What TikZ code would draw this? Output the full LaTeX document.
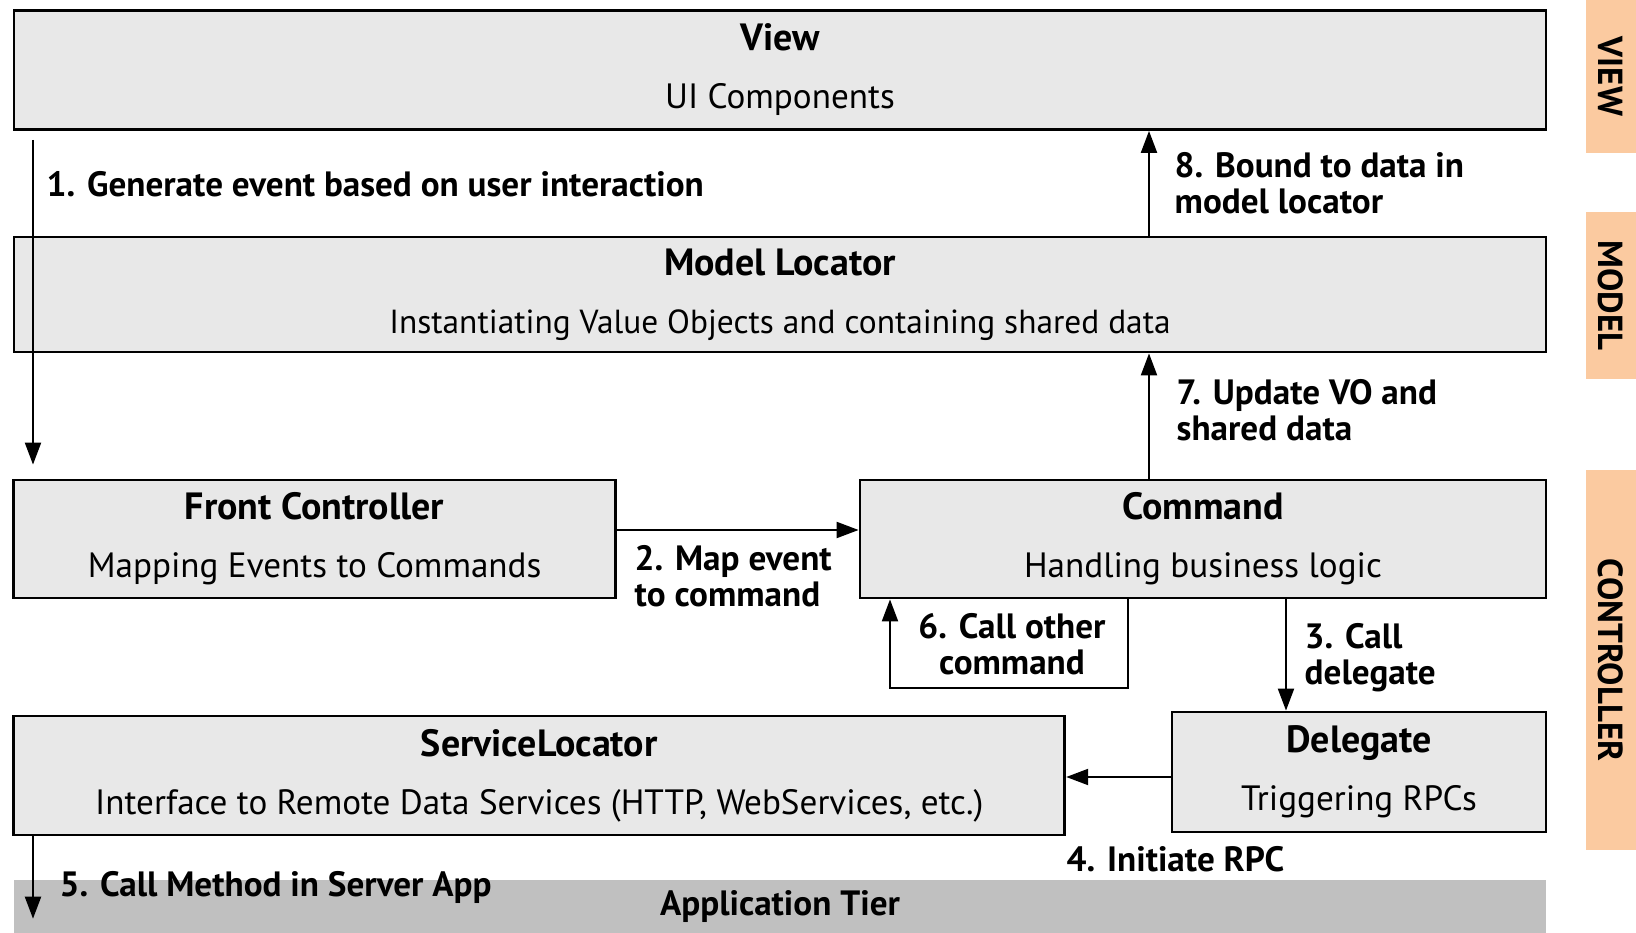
\documentclass[tikz,border=0pt]{standalone}
\usepackage{fontspec}
\setmainfont{PT Sans}
\usepackage{tikz}
\usetikzlibrary{arrows.meta,positioning,calc}
\usepackage{xcolor}

\definecolor{boxgray}{RGB}{232,232,232}
\definecolor{tiergray}{RGB}{192,192,192}
\definecolor{taborange}{RGB}{251,202,160}

\newcommand{\boxtitle}[1]{{\fontsize{10.8}{12}\selectfont\bfseries #1}}

\tikzset{
  layerbox/.style={draw, thick, fill=boxgray, align=center, inner sep=0pt,
    font=\fontsize{10}{11}\selectfont},
  steplabel/.style={font=\fontsize{10}{10.3}\selectfont\bfseries, align=left, anchor=west, inner sep=0pt},
  layertab/.style={fill=taborange, rotate=-90, minimum height=0.5cm, inner sep=0pt,
    font=\fontsize{9.9}{10}\selectfont\bfseries},
  flow/.style={semithick, -{Triangle[length=2.2mm,width=1.6mm]}}
}

\begin{document}
\begin{tikzpicture}
    \useasboundingbox (0,0) rectangle (16.36,-9.33);

    % Layers
    \node[layerbox, minimum width=15.32cm, minimum height=1.19cm] (view) at (7.80,-0.70)
        {\boxtitle{View}\\[5.5pt]UI Components};
    \node[layerbox, minimum width=15.32cm, minimum height=1.15cm] (model) at (7.80,-2.945)
        {\boxtitle{Model Locator}\\[5.5pt]{\fontsize{9.5}{11}\selectfont Instantiating Value Objects and containing shared data}};
    \node[layerbox, minimum width=6.02cm, minimum height=1.18cm] (front) at (3.146,-5.39)
        {\boxtitle{Front Controller}\\[5.5pt]Mapping Events to Commands};
    \node[layerbox, minimum width=6.86cm, minimum height=1.18cm] (command) at (12.03,-5.39)
        {\boxtitle{Command}\\[5.5pt]Handling business logic};
    \node[layerbox, minimum width=10.51cm, minimum height=1.19cm] (service) at (5.393,-7.755)
        {\boxtitle{ServiceLocator}\\[5.5pt]Interface to Remote Data Services (HTTP, WebServices, etc.)};
    \node[layerbox, minimum width=3.74cm, minimum height=1.20cm] (delegate) at (13.59,-7.72)
        {\boxtitle{Delegate}\\[5.5pt]Triggering RPCs};
    \node[fill=tiergray, minimum width=15.32cm, minimum height=0.53cm, inner sep=0pt,
        font=\fontsize{10}{11}\selectfont\bfseries] (apptier) at (7.80,-9.065) {Application Tier};

    % Side tabs
    \node[layertab, minimum width=1.53cm] (tabview) at (16.11,-0.765) {VIEW};
    \node[layertab, minimum width=1.67cm] (tabmodel) at (16.11,-2.955) {MODEL};
    \node[layertab, minimum width=3.80cm] (tabctrl) at (16.11,-6.60) {CONTROLLER};

    % Arrow columns
    \coordinate (leftx) at (0.33,0);
    \coordinate (upx) at (11.49,0);
    \coordinate (loopr) at (11.28,-6.88);
    \coordinate (loopl) at (8.90,-6.88);
    \coordinate (downx) at (12.86,0);

    % 1
    \draw[flow] ($(leftx |- view.south)+(0,-0.09)$) -- ($(leftx |- front.north)+(0,0.14)$);
    \node[steplabel] (l1) at (0.46,-1.84) {1. Generate event based on user interaction};
    % 2
    \draw[flow] ([yshift=0.09cm]front.east) -- ([yshift=0.09cm]front.east -| command.west);
    \node[steplabel] (l2) at (6.34,-5.76) {2. Map event\\to command};
    % 3
    \draw[flow] (downx |- command.south) -- (downx |- delegate.north);
    \node[steplabel] (l3) at (13.04,-6.58) {3. Call\\delegate};
    % 4
    \draw[flow] ([yshift=-0.05cm]delegate.west) -- ([yshift=-0.05cm]delegate.west -| service.east);
    \node[steplabel] (l4) at (10.66,-8.59) {4. Initiate RPC};
    % 5
    \draw[flow] (leftx |- service.south) -- ($(leftx |- apptier.south)+(0,0.15)$);
    \node[steplabel] (l5) at (0.59,-8.87) {5. Call Method in Server App};
    % 6
    \draw[flow] (loopr |- command.south) -- (loopr) -- (loopl) -- (loopl |- command.south);
    \node[steplabel, align=center, anchor=center] (l6) at (10.12,-6.44) {6. Call other\\command};
    % 7
    \draw[flow] (upx |- command.north) -- (upx |- model.south);
    \node[steplabel] (l7) at (11.76,-4.10) {7. Update VO and\\shared data};
    % 8
    \draw[flow] (upx |- model.north) -- (upx |- view.south);
    \node[steplabel] (l8) at (11.74,-1.83) {8. Bound to data in\\model locator};
\end{tikzpicture}
\end{document}
